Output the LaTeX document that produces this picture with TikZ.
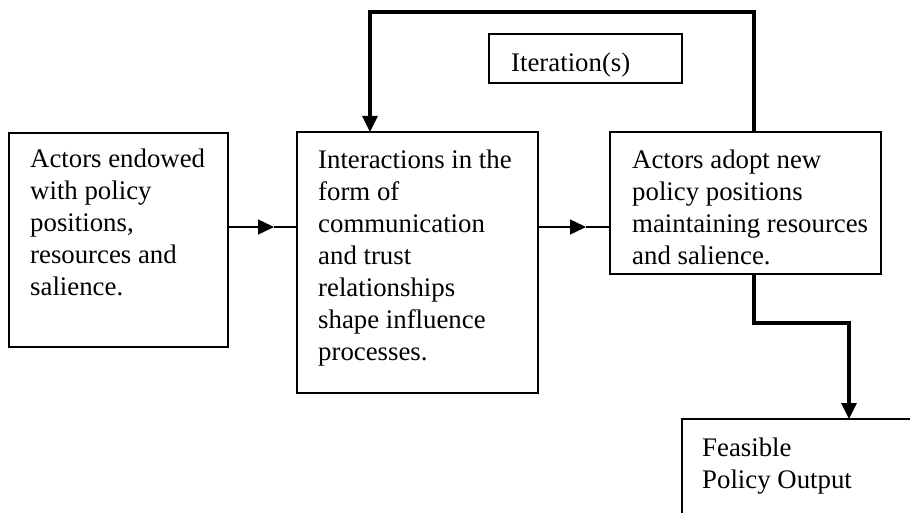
\documentclass[tikz,border=0pt]{standalone}
\usepackage{fontspec}
\setmainfont{Liberation Serif}
\usetikzlibrary{arrows.meta}

\tikzset{
  box/.style={draw, line width=1.3pt, inner sep=0pt, outer sep=0pt, anchor=north west},
  % multi-line texts are placed by the baseline of their last line
  txt/.style={anchor=base west, inner sep=0pt, align=left,
              font=\fontsize{26.8}{32}\selectfont},
  thin arrow/.style={line width=1.3pt, -{Triangle[length=16pt, width=15pt]}},
  thin line/.style={line width=1.3pt},
  loop/.style={line width=3.2pt, -{Triangle[length=16pt, width=15pt]}}
}

\begin{document}
\begin{tikzpicture}[x=1pt, y=-1pt]
  \clip (0,0) rectangle (910,513);
  \fill[white] (0,0) rectangle (910,513);

  % boxes
  \node[box, minimum width=219pt, minimum height=214pt] (b1) at (9,133) {};
  \node[box, minimum width=241pt, minimum height=261pt] (b2) at (297,132) {};
  \node[box, minimum width=271pt, minimum height=142pt] (b3) at (610,132) {};
  \node[box, minimum width=193pt, minimum height=49pt]  (it) at (489,34) {};
  \node[box, minimum width=280pt, minimum height=150pt] (b4) at (682,419) {};

  % texts
  \node[txt] (t1) at (30,295) {Actors endowed\\with policy\\positions,\\resources and\\salience.};
  \node[txt] (t2) at (318,360) {Interactions in the\\form of\\communication\\and trust\\relationships\\shape influence\\processes.};
  \node[txt] (t3) at (632,264) {Actors adopt new\\policy positions\\maintaining resources\\and salience.};
  \node[txt] (ti) at (511,72) {Iteration(s)};
  \node[txt] (t4) at (702,488) {Feasible\\Policy Output};

  % connector helper points
  \coordinate (m1) at (274,227);
  \coordinate (m2) at (586,227);
  \coordinate (lp) at (754,12);
  \coordinate (lq) at (370,12);
  \coordinate (bx) at (849,323);

  % straight links with mid-line arrowheads
  \draw[thin arrow] (b1.east |- m1) -- (m1);
  \draw[thin line] (m1) -- (b2.west |- m1);
  \draw[thin arrow] (b2.east |- m2) -- (m2);
  \draw[thin line] (m2) -- (b3.west |- m2);

  % feedback loop
  \draw[loop] (lp |- b3.north) -- (lp) -- (lq) -- (lq |- b2.north);

  % output link
  \draw[loop] (lp |- b3.south) -- (lp |- bx) -- (bx) -- (bx |- b4.north);
\end{tikzpicture}
\end{document}
